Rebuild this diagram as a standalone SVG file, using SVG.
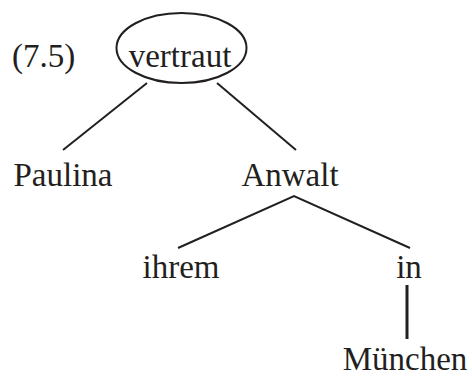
<svg xmlns="http://www.w3.org/2000/svg" width="472" height="379" viewBox="0 0 472 379">
<style>
text{font-family:"Liberation Serif","Times New Roman",serif;font-size:33px;fill:#231f20}
.e{stroke:#231f20;stroke-width:2;fill:none}
</style>
<rect width="472" height="379" fill="#fff"/>
<text x="12" y="67">(7.5)</text>
<g id="n-vertraut"><ellipse class="e" cx="181.5" cy="48" rx="65" ry="35"/><text x="180" y="67" text-anchor="middle">vertraut</text></g>
<g id="n-paulina"><text x="63" y="186" text-anchor="middle">Paulina</text></g>
<g id="n-anwalt"><text x="290" y="186" text-anchor="middle">Anwalt</text></g>
<g id="n-ihrem"><text x="181" y="278" text-anchor="middle">ihrem</text></g>
<g id="n-in"><text x="409" y="278" text-anchor="middle">in</text></g>
<g id="n-muenchen"><text x="405" y="370" text-anchor="middle">München</text></g>
<g id="connectors" class="e">
<line x1="147" y1="83" x2="63" y2="150"/>
<line x1="217" y1="83" x2="296" y2="150"/>
<polyline points="178,248 294,196 410,248"/>
<line x1="407" y1="285" x2="407" y2="339" stroke-width="3"/>
</g>
</svg>
